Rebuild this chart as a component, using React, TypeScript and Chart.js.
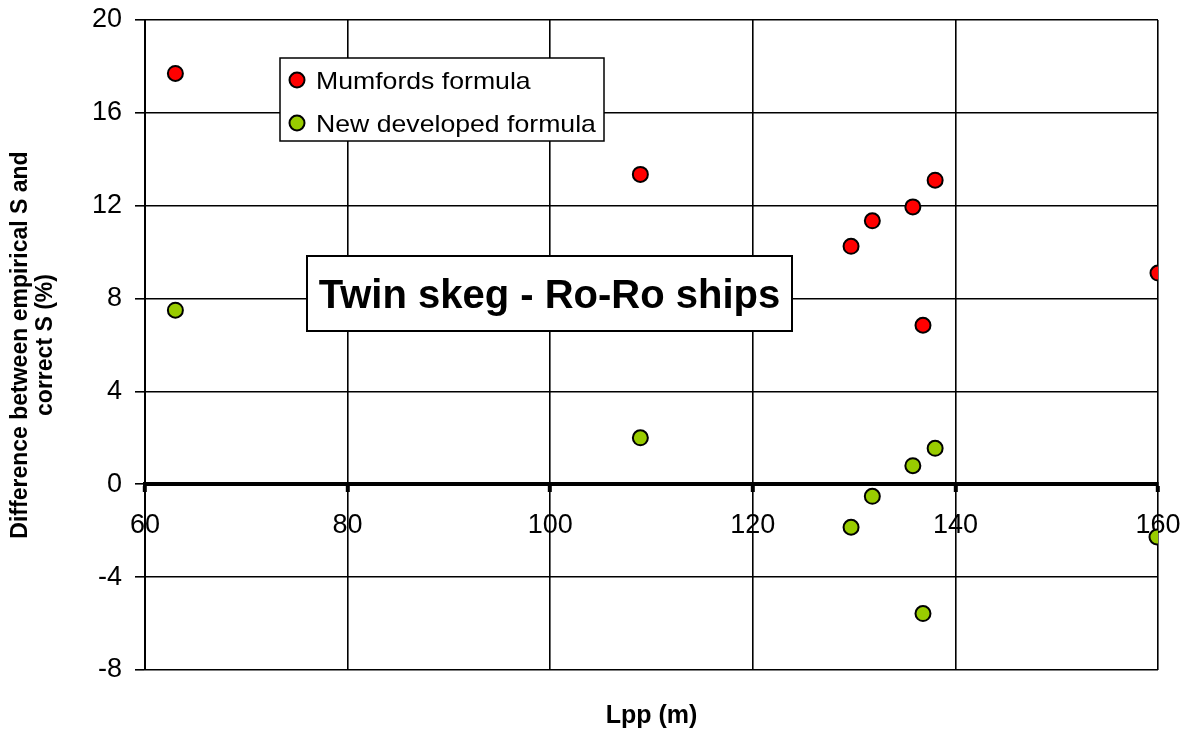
import React, { useEffect, useRef } from 'react';
import { Chart, registerables } from 'chart.js';

Chart.register(...registerables);

const FONT = '"Liberation Sans", Arial, Helvetica, sans-serif';

const seriesLabels = ['Mumfords formula', 'New developed formula'];
const lppMumford = [63, 108.9, 129.7, 131.8, 135.8, 138.0, 136.8, 160];
const diffMumford = [17.7, 13.35, 10.25, 11.35, 11.95, 13.1, 6.85, 9.1];
const lppNew = [63, 108.9, 129.7, 131.8, 135.8, 138.0, 136.8, 159.9];
const diffNew = [7.5, 2.0, -1.85, -0.52, 0.8, 1.55, -5.57, -2.27];
const seriesColors = ['#FF0000', '#99CC00'];

const chartTitle = 'Twin skeg - Ro-Ro ships';
const xTitle = 'Lpp (m)';
const yTitle = ['Difference between empirical S and', 'correct S (%)'];
const xMin = 60, xMax = 160, xStep = 20;
const yMin = -8, yMax = 20, yStep = 4;

const noPad = (s: any) => {
  s.paddingLeft = 0;
  s.paddingRight = 0;
  s.paddingTop = 0;
  s.paddingBottom = 0;
};

const overlayPlugin = {
  id: 'overlayBoxes',
  afterDatasetsDraw(chart: any) {
    const ctx = chart.ctx;
    ctx.save();
    // title box
    ctx.fillStyle = '#fff';
    ctx.strokeStyle = '#000';
    ctx.lineWidth = 2;
    ctx.fillRect(307, 256, 485, 75);
    ctx.strokeRect(307, 256, 485, 75);
    ctx.fillStyle = '#000';
    ctx.font = 'bold 40px ' + FONT;
    ctx.textAlign = 'center';
    ctx.textBaseline = 'alphabetic';
    ctx.fillText(chartTitle, 549.5, 308);

    // legend box
    ctx.fillStyle = '#fff';
    ctx.lineWidth = 1.5;
    ctx.fillRect(280, 58, 324, 83);
    ctx.strokeRect(280, 58, 324, 83);
    ctx.textAlign = 'left';
    chart.data.datasets.forEach((ds: any, i: number) => {
      const cy = 80 + i * 43;
      ctx.beginPath();
      ctx.arc(297, cy, 7.5, 0, Math.PI * 2);
      ctx.fillStyle = ds.backgroundColor;
      ctx.fill();
      ctx.lineWidth = 2;
      ctx.strokeStyle = '#000';
      ctx.stroke();
      ctx.fillStyle = '#000';
      ctx.save();
      ctx.translate(316, cy + 9);
      ctx.scale(1.11, 1);
      ctx.font = '24px ' + FONT;
      ctx.fillText(ds.label, 0, 0);
      ctx.restore();
    });
    ctx.restore();
  },
};

export default function App() {
  const ref = useRef<HTMLCanvasElement>(null);
  useEffect(() => {
    document.body.style.margin = '0';
    const canvas = ref.current!;
    const chart = new Chart(canvas, {
      type: 'scatter',
      data: {
        datasets: [
          {
            label: seriesLabels[0],
            data: lppMumford.map((x, i) => ({ x, y: diffMumford[i] })),
            backgroundColor: seriesColors[0],
            borderColor: '#000',
            borderWidth: 2,
            pointRadius: 7.5,
            pointHoverRadius: 7.5,
          },
          {
            label: seriesLabels[1],
            data: lppNew.map((x, i) => ({ x, y: diffNew[i] })),
            backgroundColor: seriesColors[1],
            borderColor: '#000',
            borderWidth: 2,
            pointRadius: 7.5,
            pointHoverRadius: 7.5,
          },
        ],
      },
      options: {
        responsive: false,
        animation: false,
        devicePixelRatio: 1,
        layout: { padding: { top: 20, right: 33, bottom: 0, left: 0 } },
        plugins: { legend: { display: false }, tooltip: { enabled: false } },
        scales: {
          x: {
            type: 'linear',
            position: { y: 0 } as any,
            min: xMin,
            max: xMax,
            ticks: {
              stepSize: xStep,
              color: '#000',
              font: { size: 27, family: FONT },
              padding: 19,
              maxRotation: 0,
              autoSkip: false,
            },
            grid: {
              color: '#000',
              lineWidth: 1.6,
              drawTicks: true,
              tickLength: 6,
              tickWidth: 4,
              tickColor: '#000',
            },
            border: { display: true, color: '#000', width: 4 },
            afterFit: noPad,
          },
          x2: {
            type: 'linear',
            position: 'bottom',
            min: xMin,
            max: xMax,
            ticks: { display: false },
            grid: { display: false, drawTicks: false },
            border: { display: false },
            title: {
              display: true,
              text: xTitle,
              color: '#000',
              font: { size: 25, weight: 'bold', family: FONT },
              padding: { top: 0, bottom: 5 },
            },
            afterFit(s: any) {
              s.height = 66;
              noPad(s);
            },
          },
          y: {
            type: 'linear',
            min: yMin,
            max: yMax,
            ticks: {
              stepSize: yStep,
              color: '#000',
              font: { size: 27, family: FONT },
              padding: 13,
            },
            grid: {
              color: '#000',
              lineWidth: 1.6,
              drawTicks: true,
              tickLength: 10,
              tickColor: '#000',
            },
            border: { display: true, color: '#000', width: 2 },
            title: {
              display: true,
              text: yTitle,
              color: '#000',
              font: { size: 23, weight: 'bold', family: FONT, lineHeight: 1.05 },
              padding: { top: 9, bottom: 0 },
            },
            afterFit(s: any) {
              s.width = 145;
              noPad(s);
            },
          },
        },
      },
      plugins: [overlayPlugin],
    } as any);
    return () => chart.destroy();
  }, []);
  return <canvas ref={ref} width={1191} height={736} style={{ display: 'block' }} />;
}
